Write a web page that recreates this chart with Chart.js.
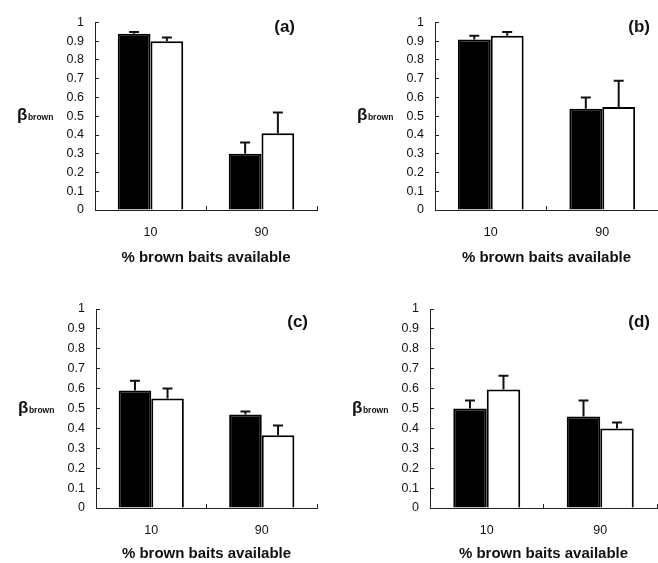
<!DOCTYPE html>
<html>
<head>
<meta charset="utf-8">
<script src="https://cdn.jsdelivr.net/npm/chart.js@4.4.1/dist/chart.umd.min.js"></script>
<style>
  body { margin: 0; background: #fff; }
  #wrap { position: relative; width: 658px; height: 563px; }
  canvas { position: absolute; }
</style>
</head>
<body>
<div id="wrap">
  <canvas id="pa" width="329" height="281" style="left:0;top:0"></canvas>
  <canvas id="pb" width="329" height="281" style="left:329px;top:0"></canvas>
  <canvas id="pc" width="329" height="282" style="left:0;top:281px"></canvas>
  <canvas id="pd" width="329" height="282" style="left:329px;top:281px"></canvas>
</div>
<script>
const categories = ["10", "90"];
const yTickLabels = ["0", "0.1", "0.2", "0.3", "0.4", "0.5", "0.6", "0.7", "0.8", "0.9", "1"];
const panelLetters = ["(a)", "(b)", "(c)", "(d)"];
const xTitle = "% brown baits available";

// one entry per panel (a..d), each [10%, 90%]
const filledMeans = [[0.94, 0.30], [0.91, 0.54], [0.59, 0.47], [0.50, 0.46]];
const filledErrors = [[0.01, 0.06], [0.02, 0.06], [0.05, 0.015], [0.04, 0.08]];
const openMeans = [[0.90, 0.41], [0.93, 0.55], [0.55, 0.365], [0.595, 0.40]];
const openErrors = [[0.02, 0.11], [0.02, 0.14], [0.05, 0.05], [0.07, 0.03]];

const FONT = '"Liberation Sans", Arial, Helvetica, sans-serif';
const INK = "#111";
const AXIS = "#222";

// plot box of each panel inside its own canvas
const panels = [
  { id: "pa", w: 329, h: 281, l: 95, t: 16, r: 317, b: 210, letterRight: 295, letterY: 27 },
  { id: "pb", w: 329, h: 281, l: 106, t: 16, r: 329, b: 210, letterRight: 321, letterY: 27 },
  { id: "pc", w: 329, h: 282, l: 96, t: 28, r: 317, b: 227, letterRight: 308, letterY: 41 },
  { id: "pd", w: 329, h: 282, l: 101, t: 28, r: 328, b: 227, letterRight: 321, letterY: 41 },
];

// upward-only error bars with a small cap
const errorBars = {
  id: "errorBars",
  afterDatasetsDraw(chart) {
    const { ctx, scales: { y } } = chart;
    ctx.save();
    ctx.strokeStyle = INK;
    ctx.lineWidth = 2;
    chart.data.datasets.forEach((ds, i) => {
      chart.getDatasetMeta(i).data.forEach((bar, j) => {
        const top = y.getPixelForValue(ds.data[j] + ds.errors[j]);
        ctx.beginPath();
        ctx.moveTo(bar.x, bar.y);
        ctx.lineTo(bar.x, top);
        ctx.moveTo(bar.x - 5, top);
        ctx.lineTo(bar.x + 5, top);
        ctx.stroke();
      });
    });
    ctx.restore();
  }
};

// beta-brown axis label and the panel letter
const panelText = {
  id: "panelText",
  afterDraw(chart, args, opts) {
    const { ctx, chartArea, scales: { y } } = chart;
    const base = y.getPixelForValue(0.5) + 4;
    const x0 = chartArea.left - 78;
    ctx.save();
    ctx.fillStyle = INK;
    ctx.textAlign = "left";
    ctx.textBaseline = "alphabetic";
    ctx.font = "bold 17px " + FONT;
    ctx.fillText("β", x0, base);
    const bw = ctx.measureText("β").width;
    ctx.font = "bold 8.5px " + FONT;
    ctx.fillText("brown", x0 + bw + 0.5, base);
    ctx.font = "bold 17px " + FONT;
    ctx.textAlign = "right";
    ctx.textBaseline = "middle";
    ctx.fillText(opts.letter, opts.right, opts.y);
    ctx.restore();
  }
};

panels.forEach((p, k) => {
  new Chart(document.getElementById(p.id), {
    type: "bar",
    data: {
      labels: categories,
      datasets: [
        { label: "filled", data: filledMeans[k], errors: filledErrors[k],
          backgroundColor: "#000", borderColor: "#000", borderWidth: 2,
          categoryPercentage: 0.59, barPercentage: 1 },
        { label: "open", data: openMeans[k], errors: openErrors[k],
          backgroundColor: "#fff", borderColor: "#000", borderWidth: 2,
          categoryPercentage: 0.59, barPercentage: 1 },
      ]
    },
    options: {
      responsive: false,
      animation: false,
      devicePixelRatio: 1,
      layout: { padding: { left: 0, top: p.t, right: p.w - p.r, bottom: 0 } },
      plugins: {
        legend: { display: false },
        tooltip: { enabled: false },
        panelText: { letter: panelLetters[k], right: p.letterRight, y: p.letterY }
      },
      scales: {
        x: {
          afterFit: (s) => { s.height = p.h - p.b; },
          grid: { offset: true, drawOnChartArea: false, tickLength: -4, color: AXIS, lineWidth: 1 },
          border: { color: AXIS, width: 1 },
          ticks: { padding: 19, color: INK, font: { family: FONT, size: 12.5 } },
          title: {
            display: true, text: xTitle, color: INK,
            font: { family: FONT, size: 15, weight: "bold" },
            padding: { top: 0, bottom: Math.max(0, p.h - p.b - 48 - 9) }
          }
        },
        y: {
          min: 0, max: 1,
          afterFit: (s) => { s.width = p.l; },
          grid: { drawOnChartArea: false, tickLength: -4, color: AXIS, lineWidth: 1 },
          border: { color: AXIS, width: 1 },
          ticks: {
            stepSize: 0.1, padding: 15, color: INK,
            font: { family: FONT, size: 12.5 },
            callback: (v, i) => yTickLabels[i]
          }
        }
      }
    },
    plugins: [errorBars, panelText]
  });
});
</script>
</body>
</html>
